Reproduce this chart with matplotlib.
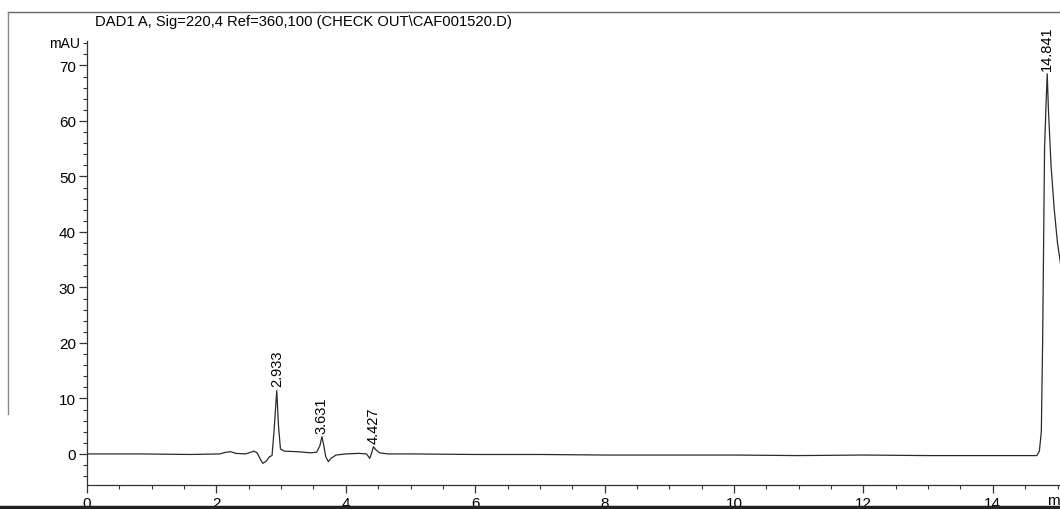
import matplotlib.pyplot as plt
from matplotlib.ticker import MultipleLocator
from matplotlib.lines import Line2D

plt.rcParams['font.family'] = ['Liberation Sans', 'DejaVu Sans']

# chromatogram trace (min, mAU)
time_min = [0.00, 0.80, 1.60, 2.05, 2.15, 2.22, 2.30, 2.45, 2.53, 2.58, 2.63,
            2.68, 2.72, 2.77, 2.82, 2.86, 2.89, 2.933, 2.96, 2.99, 3.05, 3.25,
            3.45, 3.55, 3.60, 3.631, 3.66, 3.69, 3.73, 3.77, 3.85, 4.00, 4.20,
            4.32, 4.37, 4.40, 4.427, 4.46, 4.52, 4.65, 5.00, 6.00, 7.00, 8.00,
            9.00, 10.00, 11.00, 12.00, 13.00, 14.00, 14.60, 14.68, 14.72,
            14.75, 14.77, 14.80, 14.82, 14.841, 14.86, 14.90, 14.95, 15.00,
            15.10]
signal_mau = [0.0, 0.0, -0.1, 0.0, 0.3, 0.4, 0.1, 0.0, 0.3, 0.5, 0.2,
              -1.0, -1.7, -1.3, -0.5, -0.3, 4.0, 11.4, 5.0, 0.9, 0.5, 0.4,
              0.2, 0.3, 1.5, 3.1, 1.5, -0.5, -1.4, -0.8, -0.2, 0.0, 0.1,
              0.0, -0.8, 0.2, 1.3, 0.8, 0.2, 0.0, 0.0, -0.1, -0.1, -0.2,
              -0.2, -0.2, -0.3, -0.2, -0.3, -0.3, -0.3, -0.3, 0.5,
              4.0, 20.0, 55.0, 62.0, 68.5, 62.0, 52.0, 44.0, 38.0,
              30.0]

peak_rt = [2.933, 3.631, 4.427, 14.841]
peak_height = [11.4, 3.1, 1.3, 68.5]
peak_labels = ['2.933', '3.631', '4.427', '14.841']

title = r'DAD1 A, Sig=220,4 Ref=360,100 (CHECK OUT\CAF001520.D)'

W, H = 1060, 510
fig = plt.figure(figsize=(W / 100, H / 100), dpi=100)
fig.patch.set_facecolor('white')

# axes: left spine at x=87px, bottom spine at y=486px, top at y=42px
ax = fig.add_axes([87 / W, (H - 486) / H, (W - 87) / W, (486 - 42) / H])
ax.set_xlim(0, (W - 87) / 64.7)
ax.set_ylim(-5.6, 74.4)
ax.patch.set_alpha(0)

ax.plot(time_min, signal_mau, color='#2a2a2a', lw=0.9)

for rt, h, lab in zip(peak_rt, peak_height, peak_labels):
    ax.annotate(lab, (rt, h), xytext=(0, 3), textcoords='offset points',
                rotation=90, ha='center', va='bottom', fontsize=10.5,
                annotation_clip=False)

for s in ['top', 'right']:
    ax.spines[s].set_visible(False)
for s in ['left', 'bottom']:
    ax.spines[s].set_color('#333333')
    ax.spines[s].set_linewidth(0.9)

ax.xaxis.set_major_locator(MultipleLocator(2))
ax.xaxis.set_minor_locator(MultipleLocator(0.5))
ax.yaxis.set_minor_locator(MultipleLocator(2))
ax.set_yticks([0, 10, 20, 30, 40, 50, 60, 70])
ax.tick_params(which='major', direction='out', length=6, width=0.9,
               color='#333333', labelsize=11, pad=2)
ax.tick_params(which='minor', direction='out', length=3, width=0.8,
               color='#333333')

fig.text(80 / W, 1 - 44 / H, 'mAU', ha='right', va='center', fontsize=10)
fig.text(1047 / W, 1 - 501 / H, 'min', ha='left', va='center', fontsize=11)
fig.text(95 / W, 1 - 22 / H, title, ha='left', va='center', fontsize=10.6)

# printout frame (top and left edges) and scan edge at the bottom
fig.add_artist(Line2D([8 / W, 1], [1 - 13 / H, 1 - 13 / H],
                      transform=fig.transFigure, color='#666666', lw=1))
fig.add_artist(Line2D([8 / W, 8 / W], [1 - 13 / H, 1 - 415 / H],
                      transform=fig.transFigure, color='#888888', lw=1))
fig.add_artist(Line2D([0, 1], [1 - 508 / H, 1 - 508 / H],
                      transform=fig.transFigure, color='#222222', lw=2.5))

fig.savefig('out.png', dpi=100)
